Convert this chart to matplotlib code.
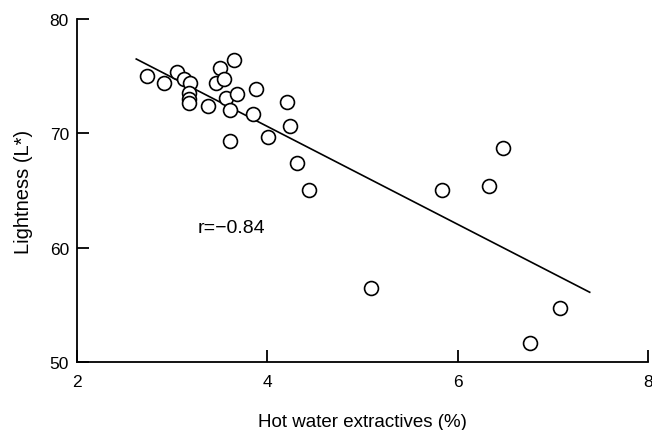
import matplotlib
matplotlib.use("Agg")
import matplotlib.pyplot as plt

# Data
hot_water = [2.73, 2.91, 3.05, 3.12, 3.19, 3.17, 3.17, 3.17, 3.37, 3.46,
             3.50, 3.54, 3.65, 3.56, 3.68, 3.61, 3.88, 3.85, 3.61, 4.01,
             4.21, 4.24, 4.31, 4.44, 5.09, 5.84, 6.33, 6.48, 6.76, 7.08]
lightness = [75.0, 74.4, 75.4, 74.75, 74.4, 73.5, 73.0, 72.65, 72.35, 74.4,
             75.75, 74.75, 76.4, 73.1, 73.4, 72.0, 73.9, 71.7, 69.35, 69.65,
             72.7, 70.65, 67.4, 65.0, 56.5, 65.05, 65.4, 68.7, 51.7, 54.75]

fit_x = [2.62, 7.39]
fit_y = [76.5, 56.1]

x_ticks = [2, 4, 6, 8]
y_ticks = [50, 60, 70, 80]

plt.rcParams['font.family'] = ['Liberation Sans', 'DejaVu Sans']

fig = plt.figure(figsize=(6.52, 4.31), dpi=100)
ax = fig.add_axes([0.1186, 0.1578, 0.9934 - 0.1186, 0.9536 - 0.1578])

ax.plot(fit_x, fit_y, color='black', lw=1.2, zorder=2)
ax.plot(hot_water, lightness, 'o', ms=10, mfc='white', mec='black', mew=1.2,
        zorder=3, clip_on=False)

ax.set_xlim(2, 8)
ax.set_ylim(50, 80)
ax.set_xticks(x_ticks)
ax.set_yticks(y_ticks)
ax.spines['top'].set_visible(False)
ax.spines['right'].set_visible(False)
for s in ('left', 'bottom'):
    ax.spines[s].set_linewidth(1.3)
ax.tick_params(direction='in', length=8.5, width=1.3, labelsize=12.5)
ax.tick_params(axis='x', pad=9)
ax.tick_params(axis='y', pad=6)

ax.text(3.27, 61.8, 'r=\u22120.84', fontsize=14, va='center', ha='left')

ax.set_xlabel('Hot water extractives (%)', fontsize=13.5, labelpad=17)
ax.set_ylabel('Lightness (L*)', fontsize=14.5, labelpad=12)

fig.savefig('out.png', dpi=100)
